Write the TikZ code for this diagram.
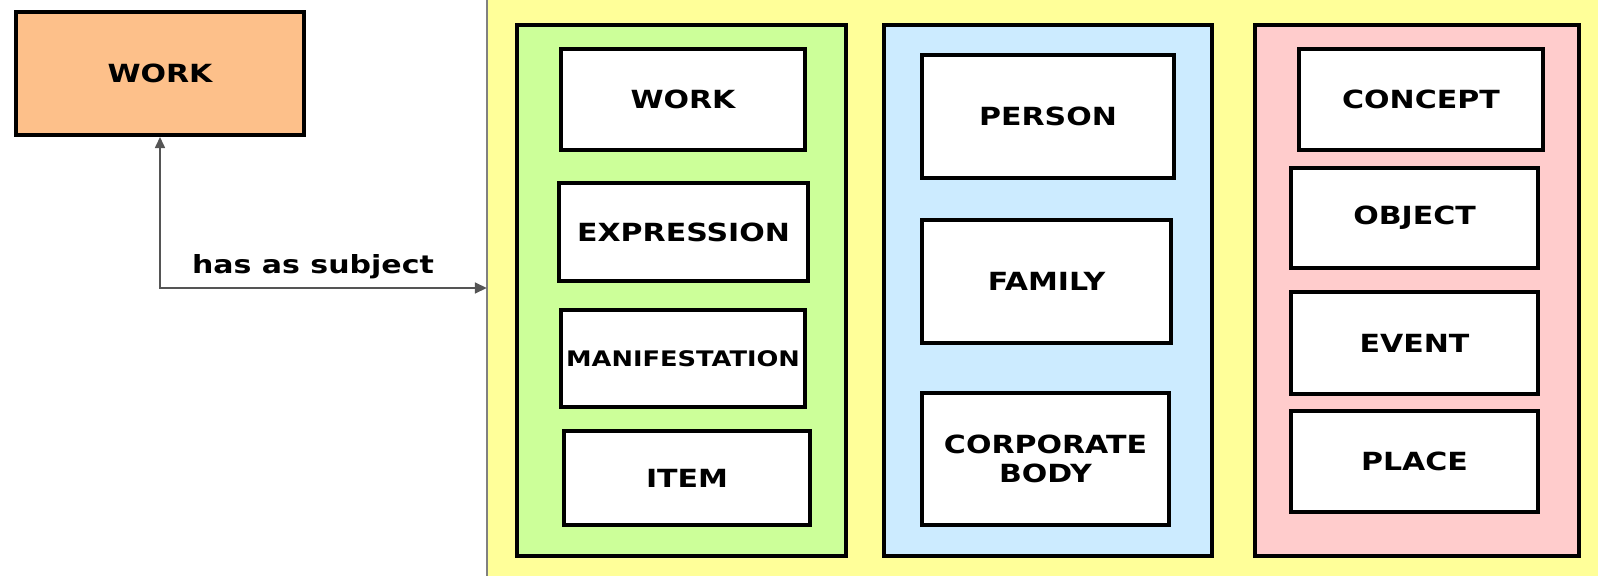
\documentclass[tikz,border=0pt]{standalone}
\usepackage{fontspec}
\usetikzlibrary{arrows.meta}
\newfontfamily\lbl[FakeStretch=1.2]{DejaVu Sans}
\definecolor{orangefill}{HTML}{FDC08A}
\definecolor{yellowfill}{HTML}{FFFF99}
\definecolor{greenfill}{HTML}{CCFF99}
\definecolor{bluefill}{HTML}{CCEBFF}
\definecolor{pinkfill}{HTML}{FFCCCC}
\definecolor{linkgray}{HTML}{555555}
\tikzset{
  ent/.style={draw=black, line width=4pt, fill=white, inner sep=0pt, align=center,
    font=\lbl\bfseries\fontsize{25}{29}\selectfont},
  panel/.style={draw=black, line width=4pt, inner sep=0pt},
  link/.style={draw=linkgray, line width=1.6pt, {Triangle[length=11pt,width=10pt]}-{Triangle[length=12pt,width=11pt]}},
  lab/.style={font=\lbl\bfseries\fontsize{25}{29}\selectfont, inner sep=0pt}
}
\begin{document}
\begin{tikzpicture}[x=1pt,y=-1pt]
\useasboundingbox (0,0) rectangle (1598,576);
% yellow subject area
\node[fill=yellowfill, minimum width=1111pt, minimum height=576pt, inner sep=0pt] (subj) at (1042.5,288) {};
\draw[draw=gray, line width=2pt] (subj.north west) -- (subj.south west);
% panels
\node[panel, fill=greenfill, minimum width=329pt, minimum height=531pt] (grp1) at (681.5,290.5) {};
\node[panel, fill=bluefill, minimum width=328pt, minimum height=531pt] (grp2) at (1048,290.5) {};
\node[panel, fill=pinkfill, minimum width=324pt, minimum height=531pt] (grp3) at (1417,290.5) {};
% left work
\node[ent, fill=orangefill, minimum width=288pt, minimum height=123pt] (work) at (160,73.5) {WORK};
% group 1
\node[ent, minimum width=244pt, minimum height=101pt] (w1) at (683,99.5) {WORK};
\node[ent, minimum width=249pt, minimum height=98pt] (expr) at (683.5,232) {EXPRESSION};
\node[ent, minimum width=244pt, minimum height=97pt, font=\lbl\bfseries\fontsize{21.4}{25}\selectfont] (manif) at (683,358.5) {MANIFESTATION};
\node[ent, minimum width=246pt, minimum height=94pt] (item) at (687,478) {ITEM};
% group 2
\node[ent, minimum width=252pt, minimum height=123pt] (person) at (1048,116.5) {PERSON};
\node[ent, minimum width=249pt, minimum height=123pt] (family) at (1046.5,281.5) {FAMILY};
\node[ent, minimum width=247pt, minimum height=132pt] (corp) at (1045.5,459) {CORPORATE\\BODY};
% group 3
\node[ent, minimum width=244pt, minimum height=101pt] (concept) at (1421,99.5) {CONCEPT};
\node[ent, minimum width=247pt, minimum height=100pt] (object) at (1414.5,218) {OBJECT};
\node[ent, minimum width=247pt, minimum height=102pt] (event) at (1414.5,343) {EVENT};
\node[ent, minimum width=247pt, minimum height=101pt] (place) at (1414.5,461.5) {PLACE};
% relationship
\draw[link] (work.south) |- (subj.west);
\node[lab, anchor=base] (rel) at (313,273) {has as subject};
\end{tikzpicture}
\end{document}
